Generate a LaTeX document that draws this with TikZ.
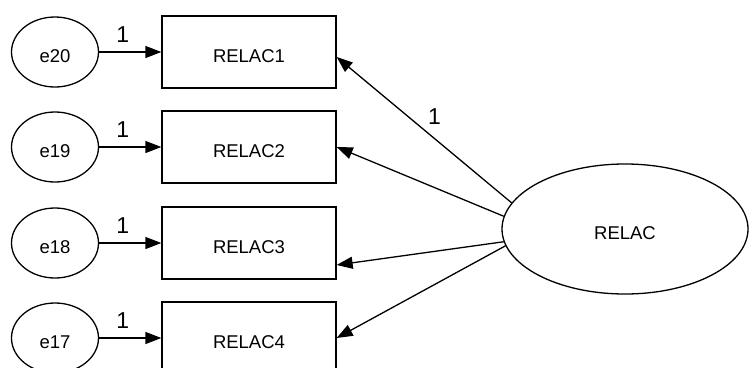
\documentclass[tikz,border=0pt]{standalone}
\usepackage{fontspec}
\setmainfont{Liberation Sans}
\usetikzlibrary{arrows.meta,shapes.geometric,calc}
\begin{document}
\begin{tikzpicture}[x=1pt,y=-1pt,
  line width=1.3pt,
  txt/.style={font=\fontsize{18.5}{20}\selectfont, text height=21pt, text depth=0pt},
  obs/.style={txt, draw, rectangle, minimum width=174pt, minimum height=72pt, inner sep=0pt},
  err/.style={txt, draw, ellipse, minimum width=87pt, minimum height=70pt, inner sep=0pt},
  lat/.style={txt, draw, ellipse, minimum width=246pt, minimum height=130pt, inner sep=0pt},
  path/.style={-{Triangle[length=16pt,width=12pt]}},
  wt/.style={font=\fontsize{23}{25}\selectfont, inner sep=0pt}]
  \useasboundingbox (0,0) rectangle (749,367);

  % observed indicators
  \node[obs] (r1) at (249,52)  {RELAC1};
  \node[obs] (r2) at (249,147) {RELAC2};
  \node[obs] (r3) at (249,243) {RELAC3};
  \node[obs] (r4) at (249,338) {RELAC4};

  % error terms
  \node[err] (e20) at (55,52)  {e20};
  \node[err] (e19) at (55,147) {e19};
  \node[err] (e18) at (55,243) {e18};
  \node[err] (e17) at (55,338) {e17};

  % latent factor
  \node[lat] (f) at (625,229) {RELAC};

  % error paths
  \foreach \e/\r in {e20/r1, e19/r2, e18/r3, e17/r4}
    \draw[path] (\e.east) -- node[wt, pos=0.38, yshift=17pt] {1} (\r.west);

  % factor loadings
  \draw[path] (f.167) -- node[wt, pos=0.44, yshift=22pt] {1} ($(r1.east)+(0,5)$);
  \draw[path] (f.174) -- (r2.east);
  \draw[path] (f.186) -- ($(r3.east)+(0,22)$);
  \draw[path] (f.188.5) -- (r4.east);
\end{tikzpicture}
\end{document}
